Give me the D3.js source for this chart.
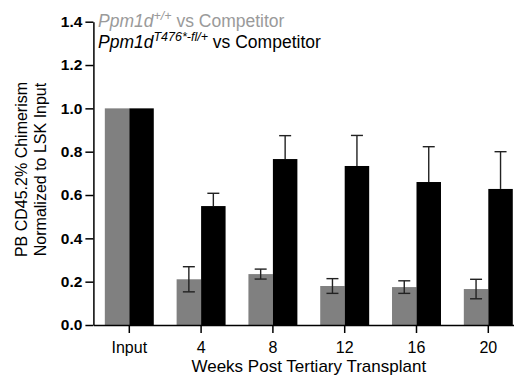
<!DOCTYPE html>
<html>
<head>
<meta charset="utf-8">
<script src="https://cdn.jsdelivr.net/npm/d3@7"></script>
<style>
  html, body { margin: 0; padding: 0; background: #fff; }
  svg { display: block; font-family: "Liberation Sans", Arial, Helvetica, sans-serif; }
</style>
</head>
<body>
<svg id="chart" width="514" height="377"></svg>
<script>
// Time points (weeks post tertiary transplant)
const categories = ["Input", "4", "8", "12", "16", "20"];
// Normalized PB CD45.2% chimerism, means
const wtMeans = [1.0, 0.211, 0.235, 0.180, 0.175, 0.166];
const mutMeans = [1.0, 0.549, 0.766, 0.734, 0.660, 0.628];
// Error (SEM) for each point
const wtErr = [0, 0.058, 0.023, 0.034, 0.029, 0.045];
const mutErr = [0, 0.059, 0.108, 0.141, 0.163, 0.172];
const yTicks = [0, 0.2, 0.4, 0.6, 0.8, 1.0, 1.2, 1.4];

const series = [
  { key: "wt", means: wtMeans, err: wtErr, color: "#808080" },
  { key: "mut", means: mutMeans, err: mutErr, color: "#000000" }
];

const FONT = "Liberation Sans, Arial, Helvetica, sans-serif";
const svg = d3.select("#chart");

const y = d3.scaleLinear().domain([0, 1.4]).range([325, 21.7]);
const x = d3.scaleBand().domain(categories).range([93.4, 524.2])
  .paddingInner(0.318).paddingOuter(0.159);
const xs = d3.scaleBand().domain(series.map(s => s.key)).range([0, x.bandwidth()]);

// Bars
const groups = svg.append("g").selectAll("g")
  .data(series).join("g").attr("fill", d => d.color);

groups.selectAll("rect")
  .data(s => categories.map((c, i) => ({ c, v: s.means[i], key: s.key })))
  .join("rect")
  .attr("x", d => x(d.c) + xs(d.key))
  .attr("y", d => y(d.v))
  .attr("width", xs.bandwidth())
  .attr("height", d => y(0) - y(d.v));

// Error bars: grey series shows both directions, black series upward only
const capW = 12;
series.forEach(s => {
  const g = svg.append("g").attr("stroke", "#222").attr("stroke-width", 1.4).attr("fill", "none");
  categories.forEach((c, i) => {
    if (!s.err[i]) return;
    const cx = x(c) + xs(s.key) + xs.bandwidth() / 2;
    const top = s.means[i] + s.err[i];
    const bot = s.key === "wt" ? s.means[i] - s.err[i] : s.means[i];
    g.append("line").attr("x1", cx).attr("x2", cx).attr("y1", y(top)).attr("y2", y(bot));
    g.append("line").attr("x1", cx - capW / 2).attr("x2", cx + capW / 2).attr("y1", y(top)).attr("y2", y(top));
    if (s.key === "wt") {
      g.append("line").attr("x1", cx - capW / 2).attr("x2", cx + capW / 2).attr("y1", y(bot)).attr("y2", y(bot));
    }
  });
});

// Y axis
const yAxis = svg.append("g").attr("transform", "translate(93.4,0)")
  .call(d3.axisLeft(y).tickValues(yTicks).tickFormat(d3.format(".1f")).tickSize(8).tickPadding(3).tickSizeOuter(0));
yAxis.selectAll("text").attr("font-size", 15.5).attr("font-weight", "bold").attr("fill", "#000")
  .attr("font-family", FONT);

// X axis
const xAxis = svg.append("g").attr("transform", "translate(0,325)")
  .call(d3.axisBottom(x).tickSize(8).tickPadding(9).tickSizeOuter(0));
xAxis.selectAll("text").attr("font-size", 16).attr("fill", "#000")
  .attr("font-family", FONT);

svg.selectAll(".domain, .tick line").attr("stroke", "#000").attr("stroke-width", 1.5);

// Axis titles
svg.append("text").attr("x", (93.4 + 524.2) / 2).attr("y", 371.5)
  .attr("text-anchor", "middle").attr("font-size", 17).text("Weeks Post Tertiary Transplant");

svg.append("text").attr("transform", "translate(26.5,169.5) rotate(-90)")
  .attr("text-anchor", "middle").attr("font-size", 16).text("PB CD45.2% Chimerism");
svg.append("text").attr("transform", "translate(46,169.5) rotate(-90)")
  .attr("text-anchor", "middle").attr("font-size", 16).text("Normalized to LSK Input");

// Legend
const leg1 = svg.append("text").attr("x", 98).attr("y", 26.5).attr("font-size", 17.5).attr("fill", "#9a9a9a");
leg1.append("tspan").attr("font-style", "italic").text("Ppm1d");
leg1.append("tspan").attr("font-style", "italic").attr("font-size", 12.5).attr("dy", -7).text("+/+");
leg1.append("tspan").attr("dy", 7).text(" vs Competitor");

const leg2 = svg.append("text").attr("x", 98).attr("y", 48.3).attr("font-size", 17.5).attr("fill", "#000");
leg2.append("tspan").attr("font-style", "italic").text("Ppm1d");
leg2.append("tspan").attr("font-style", "italic").attr("font-size", 12.5).attr("dy", -7).text("T476*-fl/+");
leg2.append("tspan").attr("dy", 7).text(" vs Competitor");
</script>
</body>
</html>
